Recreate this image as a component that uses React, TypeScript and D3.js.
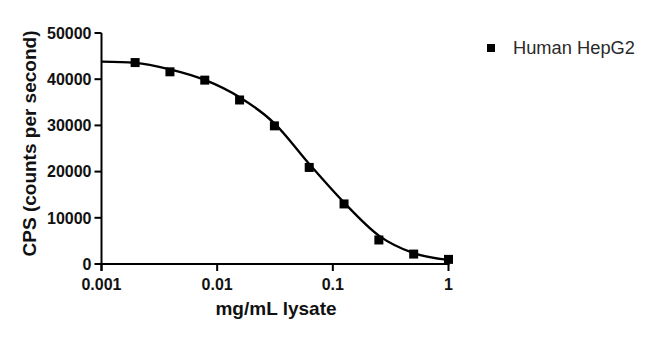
import React from "react";
import * as d3 from "d3";

const concentrations = [0.001953, 0.003906, 0.007813, 0.015625, 0.03125, 0.0625, 0.125, 0.25, 0.5, 1];
const cpsValues = [43600, 41600, 39800, 35500, 29900, 20900, 13000, 5200, 2150, 1000];
const curveX = [0.001, 0.001953, 0.003906, 0.007813, 0.015625, 0.03125, 0.0625, 0.125, 0.25, 0.5, 1];
const curveY = [43800, 43550, 42150, 39850, 36100, 30450, 21650, 13300, 6150, 2350, 870];
const xTicks = [0.001, 0.01, 0.1, 1];
const xTickLabels = ["0.001", "0.01", "0.1", "1"];
const yTicks = [0, 10000, 20000, 30000, 40000, 50000];
const seriesName = "Human HepG2";

export default function App() {
  const W = 650, H = 338;
  const left = 101.5, right = 448.5, top = 33, bottom = 264;
  const x = d3.scaleLog().domain([0.001, 1]).range([left, right]);
  const y = d3.scaleLinear().domain([0, 50000]).range([bottom, top]);
  const line = d3.line<number>()
    .x((_, i) => x(curveX[i]))
    .y((d) => y(d))
    .curve(d3.curveMonotoneX);
  const font = "'Liberation Sans', Arial, sans-serif";
  return (
    <svg width={W} height={H} style={{ position: "absolute", left: 0, top: 0 }} fontFamily={font}>
      <rect width={W} height={H} fill="#fff" />
      <line x1={left} x2={left} y1={top} y2={bottom + 7} stroke="#000" strokeWidth={2} />
      <line x1={left} x2={right + 1} y1={bottom} y2={bottom} stroke="#000" strokeWidth={2} />
      {yTicks.map((t) => (
        <g key={t}>
          <line x1={left - 7} x2={left} y1={y(t)} y2={y(t)} stroke="#000" strokeWidth={2} />
          <text x={left - 10} y={y(t)} dy="0.36em" textAnchor="end" fontSize={16} fontWeight="bold" fill="#111">{t}</text>
        </g>
      ))}
      {xTicks.map((t, i) => (
        <g key={t}>
          <line x1={x(t)} x2={x(t)} y1={bottom} y2={bottom + 7} stroke="#000" strokeWidth={2} />
          <text x={x(t)} y={bottom + 26} textAnchor="middle" fontSize={16} fontWeight="bold" fill="#111">{xTickLabels[i]}</text>
        </g>
      ))}
      <text x={276} y={315} textAnchor="middle" fontSize={19} fontWeight="bold" fill="#111">mg/mL lysate</text>
      <text transform={`translate(36,143.5) rotate(-90)`} textAnchor="middle" fontSize={19} fontWeight="bold" fill="#111">CPS (counts per second)</text>
      <path d={line(curveY) || ""} fill="none" stroke="#000" strokeWidth={2.3} />
      {concentrations.map((c, i) => (
        <rect key={c} x={x(c) - 4.5} y={y(cpsValues[i]) - 4.5} width={9} height={9} fill="#000" />
      ))}
      <rect x={487} y={44} width={8} height={8} fill="#000" />
      <text x={513} y={54} fontSize={18.3} fill="#2a2a2a">{seriesName}</text>
    </svg>
  );
}
